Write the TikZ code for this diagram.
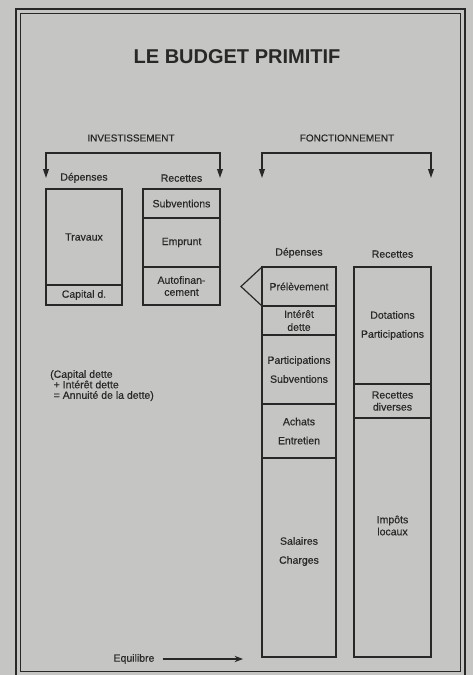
\documentclass[tikz,border=0pt]{standalone}
\usepackage{fontspec}
\setmainfont{Liberation Sans}
\newfontfamily\lblfont{Liberation Sans}[FakeBold=0.4]
\usetikzlibrary{arrows.meta,positioning}
\definecolor{paper}{RGB}{197,197,195}
\definecolor{ink}{RGB}{40,40,40}

\begin{document}
\begin{tikzpicture}[x=1pt,y=-1pt,font=\lblfont\fontsize{10.5}{12}\selectfont,>=Stealth,
  every node/.style={text=ink,inner sep=0pt},
  cell/.style={draw=ink,line width=1.2pt,outer sep=0pt,align=center},
  icol/.style={cell,minimum width=77pt},
  fcol/.style={cell,minimum width=74pt},
  rcol/.style={cell,minimum width=77pt},
  pair/.style={align=center,font=\lblfont\fontsize{10.5}{19}\selectfont},
  brace/.style={draw=ink,line width=1.8pt,{Triangle[length=9pt,width=5.5pt]}-{Triangle[length=9pt,width=5.5pt]}}]
  \useasboundingbox[fill=paper] (0,0) rectangle (473,675);
  % double frame of the page
  \draw[ink,line width=1.6pt] (16,9) rectangle (465,676);
  \draw[ink,line width=0.7pt] (20,13) rectangle (460,671);

  \node[font=\bfseries\fontsize{20}{24}\selectfont] (title) at (237,57) {LE BUDGET PRIMITIF};

  % investissement
  \node[icol,minimum width=76pt,minimum height=96pt,anchor=north west] (travaux) at (46,189) {Travaux};
  \node[icol,minimum width=76pt,minimum height=20pt,below=0pt of travaux] (capital) {Capital d.};
  \node[icol,minimum height=29pt,anchor=north west] (subv) at (143,189) {Subventions};
  \node[icol,minimum height=49pt,below=0pt of subv] (emprunt) {Emprunt};
  \node[icol,minimum height=38pt,below=0pt of emprunt] (autofin) {Autofinan-\\cement};
  \node[above=6pt of travaux] (depI) {Dépenses};
  \node[above=7pt of subv] (recI) {Recettes};
  \node[font=\lblfont\fontsize{10}{12}\selectfont] (inv) at (131,138) {INVESTISSEMENT};
  \draw[brace] (travaux.north west |- recI.center) -- ++(0,-25) -| (subv.north east |- recI.center);

  % fonctionnement, depenses
  \node[fcol,minimum height=39pt,anchor=north west] (prelev) at (262,267) {Prélèvement};
  \node[fcol,minimum height=29pt,font=\lblfont\fontsize{10.5}{13}\selectfont,below=0pt of prelev] (interet) {Intérêt\\dette};
  \node[fcol,pair,minimum height=69pt,below=0pt of interet] (partic) {Participations\\Subventions};
  \node[fcol,pair,minimum height=54pt,below=0pt of partic] (achats) {Achats\\Entretien};
  \node[fcol,minimum height=199pt,below=0pt of achats] (salaires) {};
  \node[pair] at ([yshift=6pt]salaires.center) {Salaires\\Charges};
  \draw[ink,line width=1.2pt,line join=miter] (prelev.north west) -- ([xshift=-21pt]prelev.west) -- (prelev.south west);

  % fonctionnement, recettes
  \node[rcol,pair,minimum height=117pt,anchor=north west] (dotations) at (354,267) {Dotations\\Participations};
  \node[rcol,minimum height=34pt,below=0pt of dotations] (diverses) {Recettes\\diverses};
  \node[rcol,minimum height=239pt,below=0pt of diverses] (impots) {};
  \node[align=center] at ([yshift=12pt]impots.center) {Impôts\\locaux};

  \node[above=9pt of prelev] (depF) {Dépenses};
  \node[above=9pt of dotations] (recF) {Recettes};
  \node[font=\lblfont\fontsize{10}{12}\selectfont] (fonct) at (347,138) {FONCTIONNEMENT};
  \draw[brace] (prelev.north west |- recI.center) -- ++(0,-25) -| (dotations.north east |- recI.center);

  \node[align=left,anchor=north west,font=\lblfont\fontsize{10.5}{10.5}\selectfont] (annuite) at (50,370)
    {(Capital dette\\\phantom{(}+ Intérêt dette\\\phantom{(}= Annuité de la dette)};

  \node (equil) at (134,659) {Equilibre};
  \coordinate (eqend) at (243,659);
  \draw[->,ink,line width=1.2pt] ([xshift=8pt]equil.east) -- (eqend);
\end{tikzpicture}
\end{document}
